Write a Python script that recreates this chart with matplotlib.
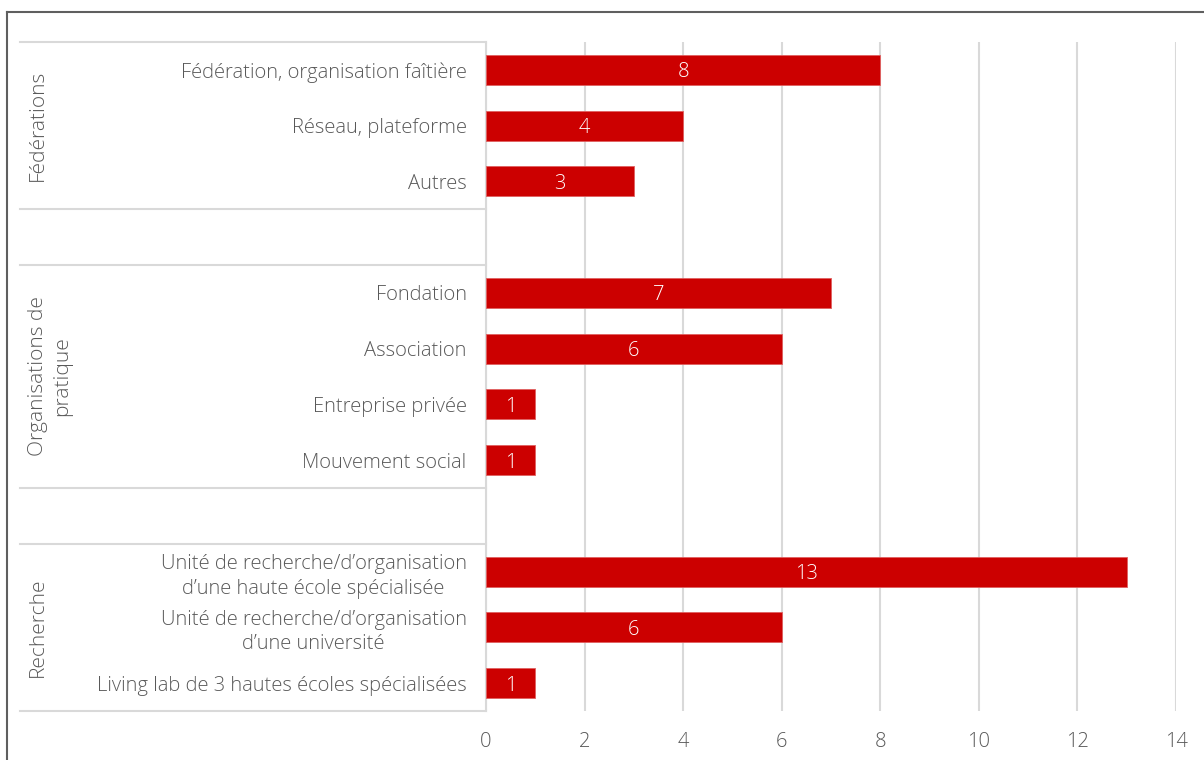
import matplotlib.pyplot as plt
from matplotlib.transforms import blended_transform_factory
from matplotlib.lines import Line2D

plt.rcParams['font.family'] = ['Open Sans', 'DejaVu Sans']
plt.rcParams['font.weight'] = 'light'

# data, top to bottom; None marks the empty gap rows between groups
labels = [
    "Fédération, organisation faîtière",
    "Réseau, plateforme",
    "Autres",
    None,
    "Fondation",
    "Association",
    "Entreprise privée",
    "Mouvement social",
    None,
    "Unité de recherche/d’organisation\nd’une haute école spécialisée",
    "Unité de recherche/d’organisation\nd’une université",
    "Living lab de 3 hautes écoles spécialisées",
]
values = [8, 4, 3, None, 7, 6, 1, 1, None, 13, 6, 1]
groups = ["Fédérations", "Organisations de\npratique", "Recherche"]
group_rows = [(0, 2), (4, 7), (9, 11)]
xticks = [0, 2, 4, 6, 8, 10, 12, 14]

RED = "#CC0000"
GREY_TXT = "#595959"
GRID = "#D9D9D9"
FS = 14.5

W, H = 1204, 760
fig = plt.figure(figsize=(W / 100, H / 100), dpi=100)

# outer frame (top and left only, the rest is cut off)
fig.add_artist(Line2D([7 / W, 7 / W], [0, 1 - 12 / H], color="#5f5f5f", lw=1.5))
fig.add_artist(Line2D([7 / W, 1], [1 - 12 / H, 1 - 12 / H], color="#5f5f5f", lw=1.5))

left, right, top, bottom = 486, 1176, 42, 711
ax = fig.add_axes([left / W, 1 - bottom / H, (right - left) / W, (bottom - top) / H])

rows = [i for i, v in enumerate(values) if v is not None]
vals = [values[i] for i in rows]
bars = ax.barh(rows, vals, height=0.54, color=RED, edgecolor="#E06060", linewidth=0.6, zorder=3)
for b, v in zip(bars, vals):
    ax.text(b.get_width() / 2, b.get_y() + b.get_height() / 2, str(v),
            ha="center", va="center_baseline", color="white", fontsize=FS, zorder=4)

ax.set_xlim(0, 14)
ax.set_ylim(len(values) - 0.5, -0.5)
ax.set_xticks(xticks)
ax.set_xticklabels([str(t) for t in xticks], fontsize=FS, color=GREY_TXT)
ax.set_yticks(rows)
ax.set_yticklabels([labels[i] for i in rows], fontsize=FS, color=GREY_TXT)
for t in ax.get_yticklabels():
    t.set_multialignment("center")
    t.set_linespacing(1.3)
ax.tick_params(axis="x", length=0, pad=15)
ax.tick_params(axis="y", length=0, pad=14)
ax.grid(axis="x", color=GRID, lw=1.5, zorder=0)
for s in ["top", "right", "bottom"]:
    ax.spines[s].set_visible(False)
ax.spines["left"].set_color(GRID)
ax.spines["left"].set_linewidth(1.5)

# category separator lines spanning the label area
trans = blended_transform_factory(ax.transAxes, ax.transData)
x0 = (20 - left) / (right - left)
for y in [-0.5, 2.5, 3.5, 7.5, 8.5, 11.5]:
    ax.plot([x0, 0], [y, y], transform=trans, color=GRID, lw=1.5, clip_on=False)

# rotated group labels, first line always at the same x
xg = (28 - left) / (right - left)
for name, (a, b) in zip(groups, group_rows):
    ax.text(xg, (a + b) / 2, name, transform=trans, rotation=90, ha="left", va="center",
            multialignment="center", linespacing=1.3, fontsize=15, color=GREY_TXT)

fig.savefig("out.png", dpi=100)
